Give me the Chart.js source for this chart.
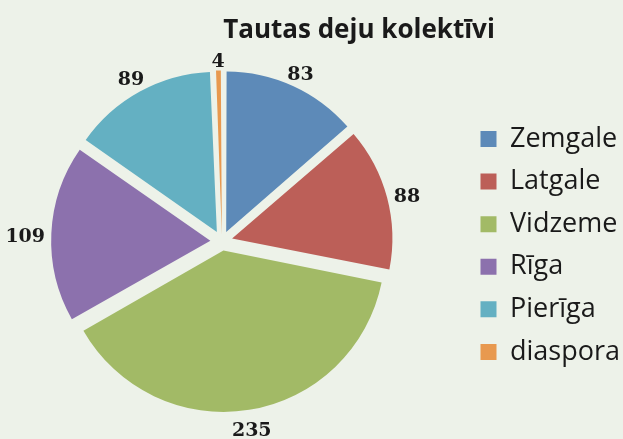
<!DOCTYPE html>
<html>
<head>
<meta charset="utf-8">
<script src="https://cdn.jsdelivr.net/npm/chart.js@4/dist/chart.umd.min.js"></script>
<style>
  html, body { margin: 0; padding: 0; background: #edf2e9; overflow: hidden; }
  #page { width: 623px; height: 439px; overflow: hidden; position: relative; }
  /* canvas a bit wider than the page, shifted left, so the pie sits left of centre */
  #wrap { width: 651px; height: 439px; position: absolute; left: -21px; top: 0; }
</style>
</head>
<body>
<div id="page"><div id="wrap"><canvas id="myChart"></canvas></div></div>
<script>
// data
var chartTitle = 'Tautas deju kolektīvi';
var categories = ['Zemgale', 'Latgale', 'Vidzeme', 'Rīga', 'Pierīga', 'diaspora'];
var values = [83, 88, 235, 109, 89, 4];

var sliceColors = ['#5d8ab8', '#bc5f58', '#a2ba66', '#8c71ad', '#64b0c2', '#e8994f'];
var explode = 12.7; // how far every slice is pulled out, px

// Chart.js moves an arc by offset/4 * (2 - sin(circumference)),
// so pick the offset per slice to get the same gap everywhere
function sliceOffset(c) {
    var data = c.dataset.data;
    var total = data.reduce(function(a, b) { return a + b; }, 0);
    var circ = 2 * Math.PI * data[c.dataIndex] / total;
    return explode * 4 / (2 - Math.sin(Math.min(Math.PI, circ)));
}

var piePlugin = {
    id: 'pieExtras',
    beforeDraw: function(chart) {
        var ctx = chart.ctx;
        ctx.save();
        ctx.fillStyle = '#edf2e9';
        ctx.fillRect(0, 0, chart.width, chart.height);
        ctx.restore();
    },
    afterDatasetsDraw: function(chart) {
        var ctx = chart.ctx;
        var meta = chart.getDatasetMeta(0);
        var ds = chart.data.datasets[0];
        ctx.save();
        ctx.font = 'bold 19px "DejaVu Serif"';
        ctx.fillStyle = '#1a1a1a';
        ctx.textAlign = 'center';
        ctx.textBaseline = 'middle';
        meta.data.forEach(function(arc, i) {
            var p = arc.getProps(['x', 'y', 'startAngle', 'endAngle', 'outerRadius'], true);
            var mid = (p.startAngle + p.endAngle) / 2;
            var txt = String(ds.data[i]);
            var w = ctx.measureText(txt).width;
            var h = 14;
            var cx = Math.cos(mid), cy = Math.sin(mid);
            var r = p.outerRadius + explode + 6 + Math.abs(cx) * w / 2 + Math.abs(cy) * h / 2;
            ctx.fillText(txt, p.x + cx * r, p.y + cy * r + 5);
        });
        // chart title
        ctx.font = 'bold 26px "Open Sans"';
        ctx.textBaseline = 'alphabetic';
        ctx.fillText(chartTitle, 380, 38);
        ctx.restore();
    }
};

function drawChart()
{
    var ctx = document.getElementById('myChart').getContext('2d');
    var chart = new Chart(ctx, {
        type: 'pie',
        data: {
            labels: categories,
            datasets: [{
                data: values,
                backgroundColor: sliceColors,
                borderWidth: 0,
                offset: sliceOffset,
                hoverOffset: 0
            }]
        },
        options: {
            responsive: true,
            maintainAspectRatio: false,
            animation: false,
            layout: {
                padding: { left: 0, right: 0, top: 60, bottom: 16.5 }
            },
            plugins: {
                title: { display: false, text: chartTitle },
                tooltip: { enabled: false },
                legend: {
                    position: 'right',
                    title: { display: true, text: '', font: { size: 7 }, padding: 0 },
                    labels: {
                        color: '#1a1a1a',
                        boxWidth: 16,
                        boxHeight: 16,
                        padding: 15.6,
                        font: { family: '"Open Sans"', size: 27 }
                    }
                }
            }
        },
        plugins: [piePlugin]
    });
}
drawChart();
</script>
</body>
</html>
